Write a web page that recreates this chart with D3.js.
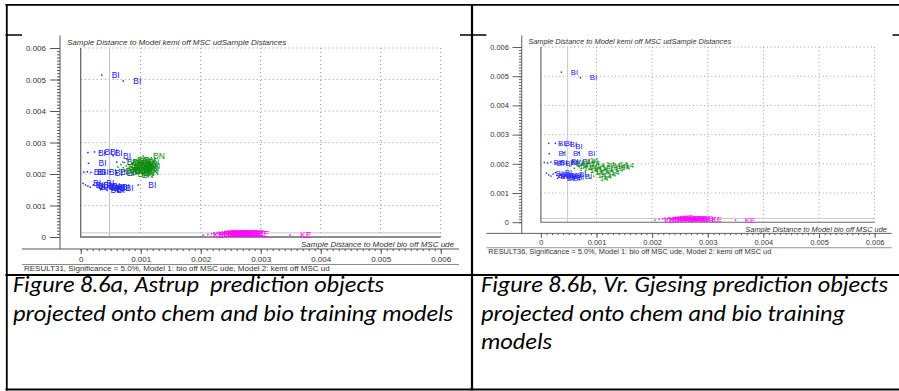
<!DOCTYPE html>
<html>
<head>
<meta charset="utf-8">
<script src="https://cdn.jsdelivr.net/npm/d3@7"></script>
<style>
  body { margin: 0; background: #fff; }
  svg { display: block; }
</style>
</head>
<body>
<svg id="page" width="899" height="391"></svg>
<script>
//------------------------
// data

// same ticks on both axes
const tickValues = [0, 0.001, 0.002, 0.003, 0.004, 0.005, 0.006];
const minorTicks = d3.range(61).map(i => i * 0.0001);

// critical limit lines (light grey)
const xCrit = 0.00048;
const yCrit = 0.00013;

// point labels
const labelBlue = "BI";
const labelGreenA = "BN";
const labelGreenB = "14";
const labelPink = "KE";

// panel a - Astrup
const blueA = [
    [0.00035, 0.00514], [0.00071, 0.00495],
    [0.00012, 0.00268], [0.00023, 0.00270], [0.00032, 0.00269], [0.00040, 0.00268], [0.00054, 0.00258],
    [0.00013, 0.00234], [0.00060, 0.00238],
    [0.00005, 0.00206], [0.00011, 0.00207], [0.00017, 0.00205], [0.00030, 0.00206], [0.00040, 0.00204],
    [0.00049, 0.00207], [0.00060, 0.00203], [0.00073, 0.00209],
    [0.00004, 0.00170], [0.00008, 0.00165], [0.00012, 0.00162], [0.00016, 0.00158], [0.00021, 0.00165],
    [0.00026, 0.00172], [0.00029, 0.00163], [0.00031, 0.00158], [0.00034, 0.00155], [0.00036, 0.00162],
    [0.00039, 0.00157], [0.00042, 0.00152], [0.00045, 0.00160], [0.00048, 0.00155], [0.00052, 0.00158],
    [0.00058, 0.00155], [0.00033, 0.00150], [0.00044, 0.00148], [0.00096, 0.00165]
];
const greenA = [
    [0.00104, 0.00257],
    [0.00058, 0.00210], [0.00062, 0.00222], [0.00065, 0.00214], [0.00067, 0.00230], [0.00069, 0.00205],
    [0.00071, 0.00220], [0.00073, 0.00236], [0.00074, 0.00212], [0.00076, 0.00226], [0.00078, 0.00200],
    [0.00079, 0.00218], [0.00080, 0.00240], [0.00082, 0.00230], [0.00083, 0.00210], [0.00084, 0.00222],
    [0.00086, 0.00234], [0.00087, 0.00204], [0.00088, 0.00216], [0.00089, 0.00244], [0.00090, 0.00226],
    [0.00091, 0.00212], [0.00092, 0.00232], [0.00093, 0.00220], [0.00094, 0.00206], [0.00095, 0.00238],
    [0.00096, 0.00224], [0.00085, 0.00196], [0.00077, 0.00246], [0.00070, 0.00238]
];
const pinkA = [
    [0.00204, 0.00006], [0.00212, 0.00008], [0.00218, 0.00010], [0.00222, 0.00012], [0.00225, 0.00009],
    [0.00228, 0.00013], [0.00231, 0.00011], [0.00234, 0.00008], [0.00236, 0.00014], [0.00239, 0.00010],
    [0.00242, 0.00012], [0.00245, 0.00009], [0.00247, 0.00013], [0.00250, 0.00011], [0.00253, 0.00008],
    [0.00255, 0.00014], [0.00258, 0.00010], [0.00261, 0.00012], [0.00264, 0.00009], [0.00267, 0.00011],
    [0.00270, 0.00013], [0.00274, 0.00010], [0.00279, 0.00008], [0.00349, 0.00006]
];

// panel b - Vr. Gjesing
const blueB = [
    [0.00037, 0.00514], [0.00071, 0.00495],
    [0.00014, 0.00270], [0.00026, 0.00270], [0.00035, 0.00268], [0.00045, 0.00262],
    [0.00015, 0.00235], [0.00041, 0.00238], [0.00068, 0.00238], [0.00038, 0.00210],
    [0.00006, 0.00205], [0.00012, 0.00203], [0.00018, 0.00206], [0.00027, 0.00203], [0.00036, 0.00207],
    [0.00046, 0.00202], [0.00058, 0.00208],
    [0.00010, 0.00168], [0.00014, 0.00162], [0.00018, 0.00158], [0.00022, 0.00165], [0.00026, 0.00170],
    [0.00029, 0.00160], [0.00032, 0.00155], [0.00035, 0.00162], [0.00038, 0.00157], [0.00041, 0.00152],
    [0.00044, 0.00160], [0.00048, 0.00155], [0.00030, 0.00150], [0.00052, 0.00165], [0.00062, 0.00158]
];
const greenB = [
    [0.00047, 0.00200], [0.00052, 0.00192], [0.00056, 0.00205], [0.00060, 0.00185], [0.00063, 0.00198],
    [0.00066, 0.00210], [0.00069, 0.00190], [0.00072, 0.00178], [0.00074, 0.00202], [0.00077, 0.00186],
    [0.00080, 0.00172], [0.00082, 0.00195], [0.00085, 0.00160], [0.00087, 0.00182], [0.00089, 0.00150],
    [0.00091, 0.00170], [0.00093, 0.00190], [0.00095, 0.00158], [0.00098, 0.00178], [0.00100, 0.00198],
    [0.00103, 0.00165], [0.00106, 0.00185], [0.00109, 0.00172], [0.00112, 0.00195], [0.00116, 0.00180],
    [0.00120, 0.00192], [0.00124, 0.00200], [0.00128, 0.00188], [0.00135, 0.00196], [0.00071, 0.00212]
];
const pinkB = [
    [0.00205, 0.00007], [0.00213, 0.00010], [0.00219, 0.00012], [0.00223, 0.00014], [0.00227, 0.00011],
    [0.00230, 0.00015], [0.00233, 0.00013], [0.00236, 0.00010], [0.00239, 0.00016], [0.00242, 0.00012],
    [0.00245, 0.00014], [0.00248, 0.00011], [0.00251, 0.00015], [0.00254, 0.00013], [0.00257, 0.00010],
    [0.00260, 0.00014], [0.00263, 0.00012], [0.00266, 0.00015], [0.00270, 0.00011], [0.00274, 0.00013],
    [0.00280, 0.00010], [0.00290, 0.00012], [0.00350, 0.00007]
];

// texts
const yTitle = "Sample Distance to Model kemi off MSC udSample Distances";
const xTitle = "Sample Distance to Model bio off MSC ude";
const resultA = "RESULT31, Significance = 5.0%, Model 1: bio off MSC ude, Model 2: kemi off MSC ud";
const resultB = "RESULT36, Significance = 5.0%, Model 1: bio off MSC ude, Model 2: kemi off MSC ud";
const captionA = ["Figure 8.6a, Astrup  prediction objects", "projected onto chem and bio training models"];
const captionB = ["Figure 8.6b, Vr. Gjesing prediction objects", "projected onto chem and bio training", "models"];

const colBlue = "#2020ff";
const colGreen = "#0c8c0c";
const colPink = "#ff00ff";
const chartFont = "'Liberation Sans', Arial, sans-serif";

//------------------------
// page / table

const svg = d3.select("#page");
svg.append("rect").attr("width", 899).attr("height", 391).attr("fill", "#fff");

const table = svg.append("g").attr("stroke", "#000");
table.append("line").attr("x1", 5.5).attr("x2", 899).attr("y1", 4.8).attr("y2", 4.8).attr("stroke-width", 1.8);
table.append("line").attr("x1", 5.5).attr("x2", 899).attr("y1", 35).attr("y2", 35).attr("stroke-width", 1.3);
table.append("line").attr("x1", 5.5).attr("x2", 899).attr("y1", 275).attr("y2", 275).attr("stroke-width", 2);
table.append("line").attr("x1", 5.5).attr("x2", 899).attr("y1", 389.5).attr("y2", 389.5).attr("stroke-width", 2);
table.append("line").attr("x1", 6.8).attr("x2", 6.8).attr("y1", 4).attr("y2", 390.5).attr("stroke-width", 1.8);
table.append("line").attr("x1", 472).attr("x2", 472).attr("y1", 4).attr("y2", 390.5).attr("stroke-width", 2.2);

//------------------------
// one plot, drawn in the left picture's pixel size (438 x 238)

function drawPlot(g, series, resultText) {
    const x = d3.scaleLinear().domain([0, 0.006]).range([58.7, 418.7]);
    const y = d3.scaleLinear().domain([0, 0.006]).range([202, 13]);
    const fmt = d => d === 0 ? "0" : d3.format(".3f")(d);

    // white picture background, hides the table line
    g.append("rect").attr("x", 0).attr("y", -1.5).attr("width", 438).attr("height", 240).attr("fill", "#fff");

    // dotted grid
    const grid = tickValues.slice(1);
    g.append("g").selectAll("line").data(grid).join("line")
        .attr("x1", d => x(d)).attr("x2", d => x(d))
        .attr("y1", y(0.006)).attr("y2", y(0))
        .attr("stroke", "#909090").attr("stroke-dasharray", "1,3");
    g.append("g").selectAll("line").data(grid).join("line")
        .attr("x1", x(0)).attr("x2", x(0.006))
        .attr("y1", d => y(d)).attr("y2", d => y(d))
        .attr("stroke", "#909090").attr("stroke-dasharray", "1,3");

    // critical limits
    g.append("line").attr("x1", x(xCrit)).attr("x2", x(xCrit)).attr("y1", y(0.006)).attr("y2", y(0))
        .attr("stroke", "#c4c4c4");
    g.append("line").attr("x1", x(0)).attr("x2", x(0.006)).attr("y1", y(yCrit)).attr("y2", y(yCrit))
        .attr("stroke", "#c4c4c4");

    // frame, left and bottom
    g.append("path")
        .attr("d", `M${x(0)},${y(0.006)}V${y(0)}H${x(0.006)}`)
        .attr("fill", "none").attr("stroke", "#6a6a6a").attr("stroke-width", 1.3);

    // points with their labels
    series.forEach(s => {
        const sg = g.append("g");
        sg.selectAll("rect").data(s.points).join("rect")
            .attr("x", d => x(d[0]) - 0.75)
            .attr("y", d => y(d[1]) - 0.75)
            .attr("width", 1.5).attr("height", 1.5)
            .attr("fill", s.color);
        sg.selectAll("text").data(s.points).join("text")
            .attr("x", d => x(d[0]) + 10)
            .attr("y", d => y(d[1]) + 3)
            .attr("font-family", chartFont).attr("font-size", 8.5)
            .attr("fill", s.color)
            .text(s.label);
    });

    // axes sit away from the frame
    const axisX = 38, axisY = 214;
    const yAxis = g.append("g").attr("transform", `translate(${axisX},0)`)
        .call(d3.axisLeft(y).tickValues(tickValues).tickSize(10).tickPadding(4).tickFormat(fmt));
    g.append("g").attr("transform", `translate(${axisX},0)`)
        .call(d3.axisLeft(y).tickValues(minorTicks).tickSize(3).tickFormat(""));
    const xAxis = g.append("g").attr("transform", `translate(0,${axisY})`)
        .call(d3.axisBottom(x).tickValues(tickValues).tickSize(5).tickPadding(2).tickFormat(fmt));
    g.append("g").attr("transform", `translate(0,${axisY})`)
        .call(d3.axisBottom(x).tickValues(minorTicks).tickSize(2).tickFormat(""));

    g.selectAll(".domain").remove();
    g.selectAll(".tick line").attr("stroke", "#555");
    g.selectAll(".tick text").attr("font-family", chartFont).attr("font-size", 8).attr("fill", "#333");

    g.append("line").attr("x1", axisX).attr("x2", axisX).attr("y1", 0.5).attr("y2", axisY)
        .attr("stroke", "#555");
    g.append("line").attr("x1", 0).attr("x2", 437).attr("y1", axisY).attr("y2", axisY)
        .attr("stroke", "#555");

    // titles
    g.append("text").attr("x", 45).attr("y", 10)
        .attr("font-family", chartFont).attr("font-size", 8).attr("font-style", "italic").attr("fill", "#333")
        .text(yTitle);
    g.append("text").attr("x", 432).attr("y", 212).attr("text-anchor", "end")
        .attr("font-family", chartFont).attr("font-size", 8).attr("font-style", "italic").attr("fill", "#333")
        .text(xTitle);

    // result line under the axis
    g.append("line").attr("x1", 0).attr("x2", 437).attr("y1", 229.5).attr("y2", 229.5)
        .attr("stroke", "#8a8a8a");
    g.append("text").attr("x", 2).attr("y", 236.3)
        .attr("font-family", chartFont).attr("font-size", 8).attr("fill", "#333")
        .text(resultText);
}

const panelA = svg.append("g").attr("transform", "translate(22,35)");
drawPlot(panelA, [
    { points: blueA, color: colBlue, label: labelBlue },
    { points: greenA, color: colGreen, label: labelGreenA },
    { points: pinkA, color: colPink, label: labelPink }
], resultA);

// the right picture is the same plot, scaled down a bit
const panelB = svg.append("g").attr("transform", "translate(486.5,35) scale(0.927)");
drawPlot(panelB, [
    { points: blueB, color: colBlue, label: labelBlue },
    { points: greenB, color: colGreen, label: labelGreenB },
    { points: pinkB, color: colPink, label: labelPink }
], resultB);

//------------------------
// captions

function drawCaption(lines, x0, widths) {
    svg.append("g").selectAll("text").data(lines).join("text")
        .attr("x", x0)
        .attr("y", (d, i) => 292 + i * 28.6)
        .attr("font-family", "Carlito, Calibri, Lato, 'Open Sans', sans-serif")
        .attr("font-style", "italic")
        .attr("font-size", 21.5)
        .attr("fill", "#000")
        .style("white-space", "pre")
        .attr("textLength", (d, i) => widths[i])
        .attr("lengthAdjust", "spacingAndGlyphs")
        .text(d => d);
}
drawCaption(captionA, 13, [371, 440]);
drawCaption(captionB, 481, [407, 364, 71]);
</script>
</body>
</html>
